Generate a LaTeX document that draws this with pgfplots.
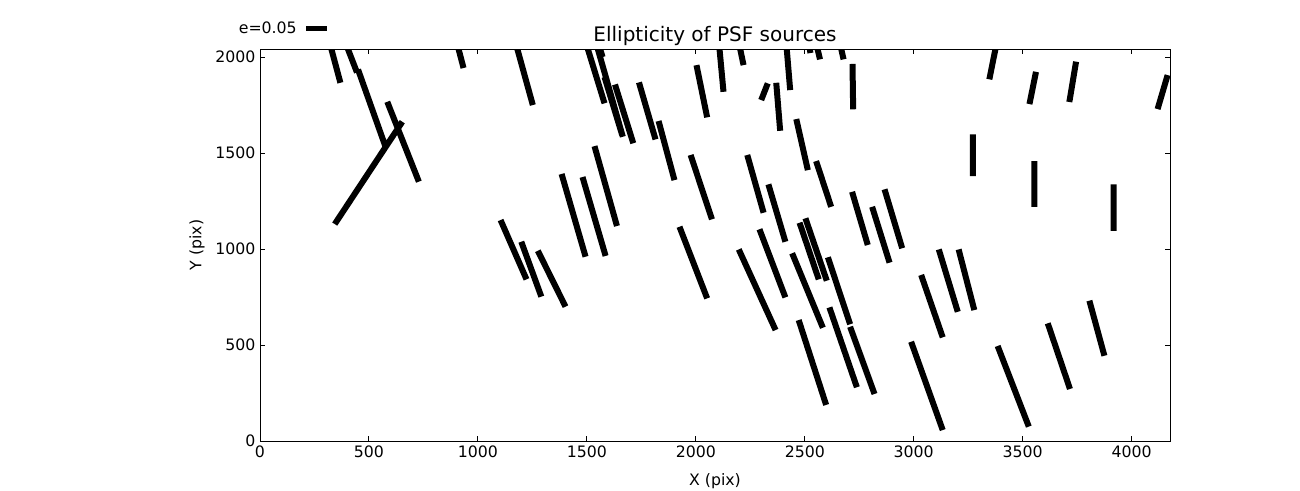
\documentclass[border=0pt]{standalone}
\usepackage{fontspec}
\setmainfont{DejaVu Sans}
\usepackage{pgfplots}
\pgfplotsset{compat=1.18}
\begin{document}
\begin{tikzpicture}
\path[use as bounding box] (0,0) rectangle (975pt,367.5pt);
\begin{axis}[
  at={(195pt,36.75pt)}, anchor=south west,
  scale only axis, width=682.5pt, height=294pt,
  xmin=0, xmax=4176, ymin=0, ymax=2042,
  xtick={0,500,...,4000}, ytick={0,500,...,2000},
  /pgf/number format/assume math mode=true,
  /pgf/number format/1000 sep={},
  tick label style={font=\fontsize{11.8}{13}\selectfont, black},
  axis line style={line width=0.75pt, black},
  tick style={line width=0.75pt, black},
  major tick length=3.75pt,
  tick align=inside,
  clip=true,
]
\addplot[black, line width=4.5pt, line cap=butt, unbounded coords=jump, mark=none] table[row sep=\\] {
x y\\
314 2099\\ 369 1866\\ nan nan\\
384 2099\\ 445 1920\\ nan nan\\
450 1935\\ 579 1523\\ nan nan\\
584 1767\\ 729 1351\\ nan nan\\
343 1130\\ 653 1663\\ nan nan\\
898 2099\\ 934 1943\\ nan nan\\
1167 2099\\ 1252 1750\\ nan nan\\
1489 2099\\ 1581 1759\\ nan nan\\
1546 2099\\ 1572 2000\\ nan nan\\
1536 2099\\ 1665 1585\\ nan nan\\
1581 1896\\ 1662 1594\\ nan nan\\
1629 1857\\ 1713 1551\\ nan nan\\
1739 1868\\ 1815 1571\\ nan nan\\
1829 1667\\ 1902 1359\\ nan nan\\
2003 1958\\ 2052 1686\\ nan nan\\
2104 2099\\ 2127 1819\\ nan nan\\
2193 2099\\ 2219 1958\\ nan nan\\
2300 1776\\ 2330 1863\\ nan nan\\
2369 1866\\ 2387 1616\\ nan nan\\
2413 2099\\ 2433 1828\\ nan nan\\
2515 2099\\ 2526 2021\\ nan nan\\
2546 2099\\ 2570 1988\\ nan nan\\
2656 2099\\ 2678 1988\\ nan nan\\
2719 1964\\ 2722 1728\\ nan nan\\
2461 1677\\ 2514 1411\\ nan nan\\
2552 1458\\ 2621 1220\\ nan nan\\
2236 1490\\ 2311 1189\\ nan nan\\
2333 1337\\ 2411 1038\\ nan nan\\
2717 1298\\ 2789 1021\\ nan nan\\
2809 1220\\ 2889 929\\ nan nan\\
2866 1311\\ 2947 1004\\ nan nan\\
1976 1490\\ 2074 1155\\ nan nan\\
2292 1103\\ 2411 748\\ nan nan\\
2476 1137\\ 2564 842\\ nan nan\\
2503 1160\\ 2601 835\\ nan nan\\
2197 998\\ 2366 578\\ nan nan\\
2442 978\\ 2583 590\\ nan nan\\
2606 957\\ 2708 608\\ nan nan\\
2613 696\\ 2739 280\\ nan nan\\
2708 595\\ 2820 245\\ nan nan\\
2472 630\\ 2598 188\\ nan nan\\
3034 865\\ 3133 540\\ nan nan\\
3115 998\\ 3202 673\\ nan nan\\
3206 998\\ 3278 682\\ nan nan\\
2988 517\\ 3133 57\\ nan nan\\
3385 2099\\ 3347 1884\\ nan nan\\
3561 1923\\ 3531 1755\\ nan nan\\
3745 1976\\ 3714 1766\\ nan nan\\
4165 1906\\ 4119 1729\\ nan nan\\
3271 1597\\ 3271 1380\\ nan nan\\
3554 1458\\ 3554 1220\\ nan nan\\
3917 1337\\ 3917 1095\\ nan nan\\
3385 495\\ 3528 75\\ nan nan\\
3615 613\\ 3717 271\\ nan nan\\
3806 731\\ 3875 444\\ nan nan\\
1104 1151\\ 1223 842\\ nan nan\\
1199 1038\\ 1291 752\\ nan nan\\
1275 991\\ 1402 700\\ nan nan\\
1384 1391\\ 1494 960\\ nan nan\\
1480 1375\\ 1586 964\\ nan nan\\
1535 1536\\ 1638 1120\\ nan nan\\
1925 1116\\ 2052 743\\
};
\end{axis}
\node[anchor=base, font=\fontsize{15}{17}\selectfont] at (536.25pt,336pt) {Ellipticity of PSF sources};
\node[font=\fontsize{11.8}{13}\selectfont] at (536.25pt,7pt) {X (pix)};
\node[rotate=90, font=\fontsize{11.8}{13}\selectfont] at (147.75pt,183.75pt) {Y (pix)};
\node[anchor=east, font=\fontsize{11.8}{13}\selectfont, inner sep=0pt] at (222.75pt,346.5pt) {e=0.05};
\draw[line width=3.2pt, black] (229.5pt,346.1pt) -- (245.25pt,346.1pt);
\end{tikzpicture}
\end{document}
